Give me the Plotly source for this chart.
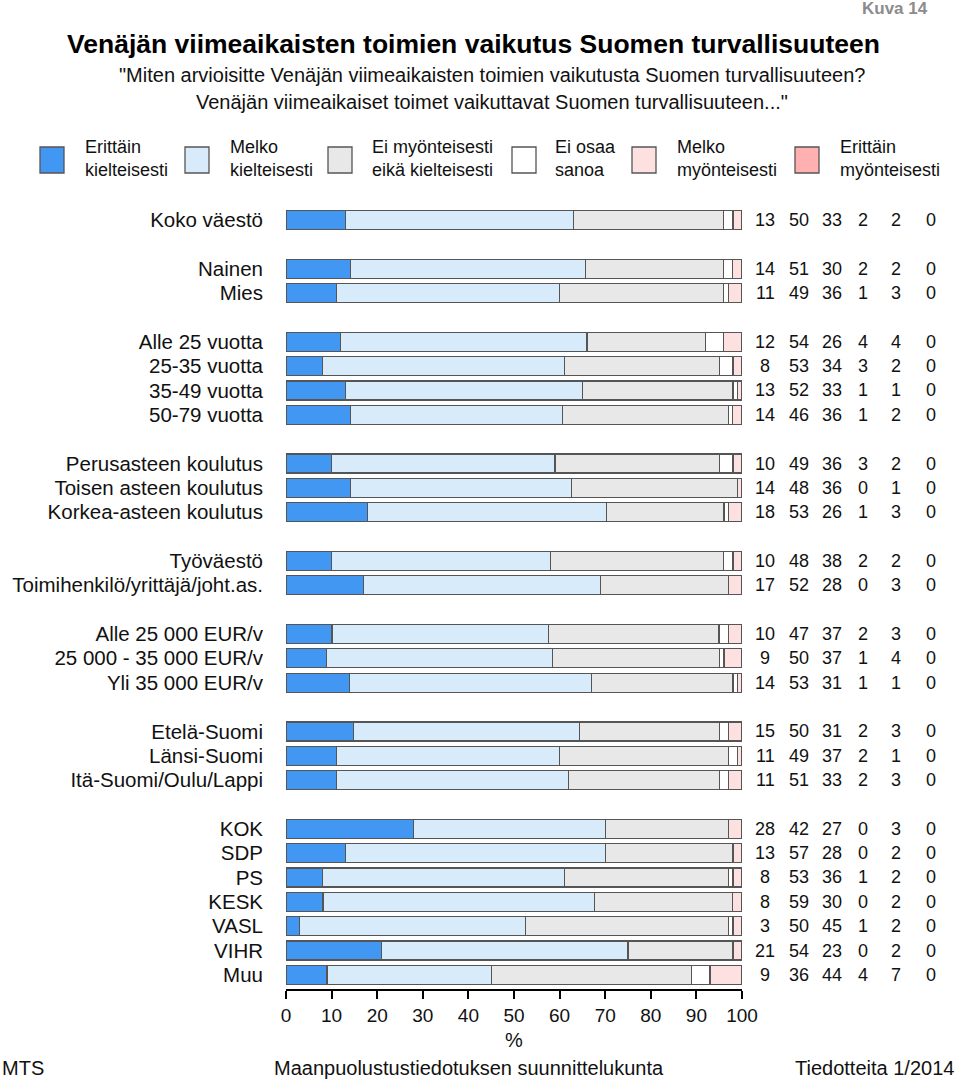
import plotly.graph_objects as go

# ---------------- data ----------------
categories = [
    ["Koko väestö"],
    ["Nainen", "Mies"],
    ["Alle 25 vuotta", "25-35 vuotta", "35-49 vuotta", "50-79 vuotta"],
    ["Perusasteen koulutus", "Toisen asteen koulutus", "Korkea-asteen koulutus"],
    ["Työväestö", "Toimihenkilö/yrittäjä/joht.as."],
    ["Alle 25 000 EUR/v", "25 000 - 35 000 EUR/v", "Yli 35 000 EUR/v"],
    ["Etelä-Suomi", "Länsi-Suomi", "Itä-Suomi/Oulu/Lappi"],
    ["KOK", "SDP", "PS", "KESK", "VASL", "VIHR", "Muu"],
]

series_names = ["Erittäin<br>kielteisesti", "Melko<br>kielteisesti",
                "Ei myönteisesti<br>eikä kielteisesti", "Ei osaa<br>sanoa",
                "Melko<br>myönteisesti", "Erittäin<br>myönteisesti"]

erittain_kielteisesti = [13, 14, 11, 12, 8, 13, 14, 10, 14, 18, 10, 17, 10, 9, 14, 15, 11, 11, 28, 13, 8, 8, 3, 21, 9]
melko_kielteisesti    = [50, 51, 49, 54, 53, 52, 46, 49, 48, 53, 48, 52, 47, 50, 53, 50, 49, 51, 42, 57, 53, 59, 50, 54, 36]
ei_kumpikaan          = [33, 30, 36, 26, 34, 33, 36, 36, 36, 26, 38, 28, 37, 37, 31, 31, 37, 33, 27, 28, 36, 30, 45, 23, 44]
ei_osaa_sanoa         = [2, 2, 1, 4, 3, 1, 1, 3, 0, 1, 2, 0, 2, 1, 1, 2, 2, 2, 0, 0, 1, 0, 1, 0, 4]
melko_myonteisesti    = [2, 2, 3, 4, 2, 1, 2, 2, 1, 3, 2, 3, 3, 4, 1, 3, 1, 3, 3, 2, 2, 2, 2, 2, 7]
erittain_myonteisesti = [0] * 25

x_ticks = [0, 10, 20, 30, 40, 50, 60, 70, 80, 90, 100]

# ---------------- styling ----------------
FONT = "Liberation Sans, Arial, sans-serif"
colors = ["#4297f3", "#d8ebfb", "#e8e8e8", "#ffffff", "#fde1e1", "#ffb1b1"]
edge = "#555555"

series = [erittain_kielteisesti, melko_kielteisesti, ei_kumpikaan,
          ei_osaa_sanoa, melko_myonteisesti, erittain_myonteisesti]

labels, ypos = [], []
pos = 0
for g in categories:
    for c in g:
        labels.append(c)
        ypos.append(pos)
        pos += 1
    pos += 1
n = len(labels)
totals = [sum(s[i] for s in series) for i in range(n)]

W, H = 960, 1081
L, R, T, B = 286, 742, 205, 989
ROW = 24.35          # pixels per row
FIRST = 220          # pixel centre of first row

def px(x):
    return (x - L) / (R - L)

def py(y):
    return (B - y) / (B - T)

fig = go.Figure()
for k, s in enumerate(series):
    xs = [s[i] * 100.0 / totals[i] for i in range(n)]
    fig.add_trace(go.Bar(
        y=ypos, x=xs, orientation="h", width=0.78,
        marker=dict(color=colors[k], line=dict(color=edge, width=1.3)),
        name=series_names[k], showlegend=False, hoverinfo="skip",
    ))

# value columns on the right
col_x = [765, 799, 832, 863, 896, 931]
for k, s in enumerate(series):
    for i in range(n):
        fig.add_annotation(x=px(col_x[k]), xref="paper", y=ypos[i], yref="y",
                           text=str(s[i]), showarrow=False, xanchor="center",
                           font=dict(size=18, color="#111", family=FONT))

# legend
box_x = [40, 185, 328, 512, 632, 795]
lab_x = [83, 228, 370, 553, 675, 838]
for k in range(6):
    fig.add_shape(type="rect", xref="paper", yref="paper",
                  x0=px(box_x[k]), x1=px(box_x[k] + 24), y0=py(173), y1=py(147),
                  fillcolor=colors[k], line=dict(color=edge, width=1.3))
    fig.add_annotation(x=px(lab_x[k]), y=py(158), xref="paper", yref="paper",
                       text=series_names[k], showarrow=False, xanchor="left",
                       yanchor="middle", align="left",
                       font=dict(size=18, color="#111", family=FONT))

# titles
fig.add_annotation(x=px(473), y=py(44), xref="paper", yref="paper",
                   text="<b>Venäjän viimeaikaisten toimien vaikutus Suomen turvallisuuteen</b>",
                   showarrow=False, xanchor="center", yanchor="middle",
                   font=dict(size=26.5, color="#000", family=FONT))
fig.add_annotation(x=px(492), y=py(75), xref="paper", yref="paper",
                   text="\"Miten arvioisitte Venäjän viimeaikaisten toimien vaikutusta Suomen turvallisuuteen?",
                   showarrow=False, xanchor="center", yanchor="middle",
                   font=dict(size=20, color="#111", family=FONT))
fig.add_annotation(x=px(492), y=py(102), xref="paper", yref="paper",
                   text="Venäjän viimeaikaiset toimet vaikuttavat Suomen turvallisuuteen...\"",
                   showarrow=False, xanchor="center", yanchor="middle",
                   font=dict(size=20, color="#111", family=FONT))
fig.add_annotation(x=px(930), y=py(8), xref="paper", yref="paper",
                   text="<b>Kuva 14</b>", showarrow=False, xanchor="right", yanchor="middle",
                   font=dict(size=17, color="#8c8c8c", family=FONT))

# footer
fig.add_annotation(x=px(0), y=py(1068), xref="paper", yref="paper", text="MTS",
                   showarrow=False, xanchor="left", yanchor="middle",
                   font=dict(size=20, color="#111", family=FONT))
fig.add_annotation(x=px(469), y=py(1068), xref="paper", yref="paper",
                   text="Maanpuolustustiedotuksen suunnittelukunta",
                   showarrow=False, xanchor="center", yanchor="middle",
                   font=dict(size=20, color="#111", family=FONT))
fig.add_annotation(x=px(956), y=py(1068), xref="paper", yref="paper",
                   text="Tiedotteita 1/2014", showarrow=False, xanchor="right", yanchor="middle",
                   font=dict(size=20, color="#111", family=FONT))

y_top = -(FIRST - T) / ROW
y_bot = ypos[-1] + (B - (FIRST + ypos[-1] * ROW)) / ROW

fig.update_layout(
    width=W, height=H, autosize=False,
    margin=dict(l=L, r=W - R, t=T, b=H - B, pad=0),
    barmode="stack", bargap=0.2,
    plot_bgcolor="white", paper_bgcolor="white",
    font=dict(family=FONT, size=18, color="#111"),
    showlegend=False,
    xaxis=dict(range=[0, 100], tickvals=x_ticks, ticks="outside", ticklen=8,
               tickwidth=1.5, tickcolor="#000", showline=True, linecolor="#000",
               linewidth=2, showgrid=False, zeroline=False,
               tickfont=dict(size=19, color="#111"),
               title=dict(text="%", font=dict(size=20, color="#111"), standoff=8),
               fixedrange=True),
    yaxis=dict(range=[y_bot, y_top], tickvals=ypos, ticktext=labels,
               showgrid=False, zeroline=False, showline=False, ticks="",
               ticklabelstandoff=22, tickfont=dict(size=20.5, color="#111"),
               fixedrange=True),
)

fig.write_html("out.html", config={"displayModeBar": False},
               post_script="document.body.style.margin='0';document.body.style.overflow='hidden';")
